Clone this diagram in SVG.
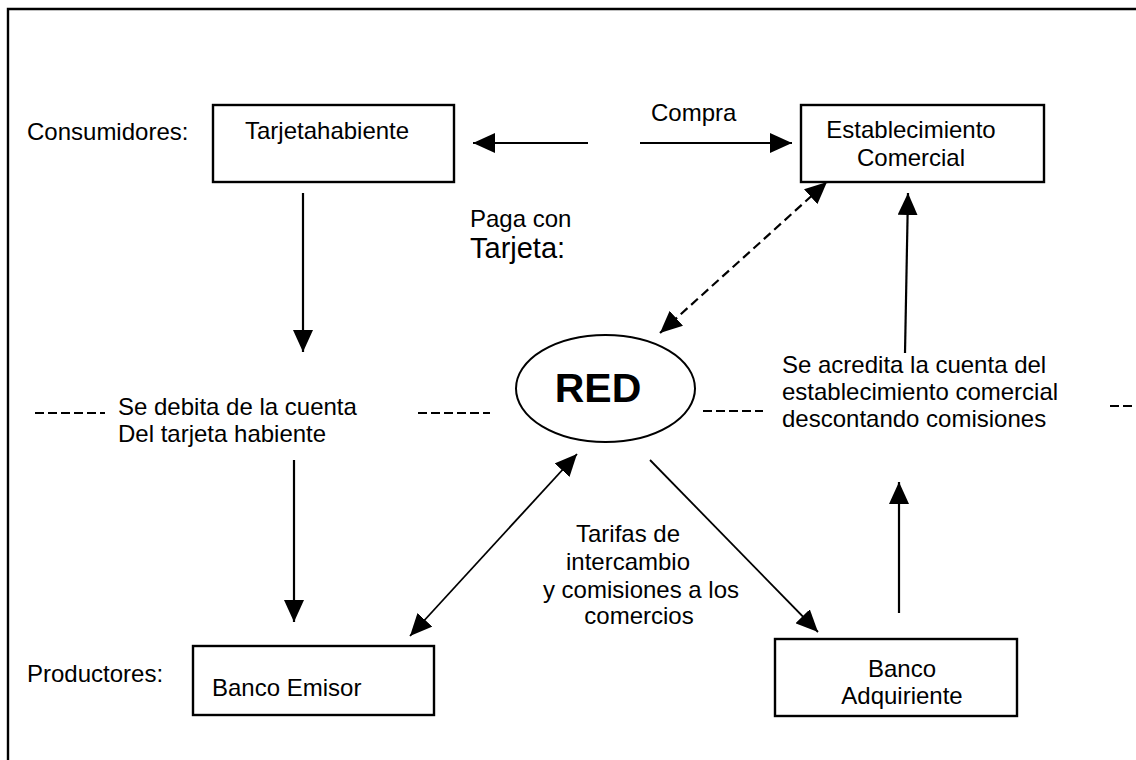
<svg xmlns="http://www.w3.org/2000/svg" width="1136" height="760" viewBox="0 0 1136 760">
<defs>
<marker id="ah" viewBox="0 0 22 20" refX="22" refY="10" markerWidth="22" markerHeight="20" markerUnits="userSpaceOnUse" orient="auto-start-reverse">
<path d="M0,0 L22,10 L0,20 z" fill="#000"/>
</marker>
<style>
text{font-family:"Liberation Sans",Arial,sans-serif;font-size:24px;fill:#000}
.box{fill:#fff;stroke:#000;stroke-width:2.4}
.ln{fill:none;stroke:#000;stroke-width:2.2}
.dl{fill:none;stroke:#000;stroke-width:2.2;stroke-dasharray:9 5}
.dash{fill:none;stroke:#000;stroke-width:2;stroke-dasharray:9 4}
.mid{text-anchor:middle}
</style>
</defs>
<rect width="1136" height="760" fill="#fff"/>
<g id="frame">
<path d="M8,760 L8,9 L1136,9" fill="none" stroke="#000" stroke-width="2.4"/>
</g>
<g id="labels">
<text x="27" y="140">Consumidores:</text>
<text x="27" y="682">Productores:</text>
<text x="651" y="121">Compra</text>
<text x="470" y="227">Paga con</text>
<text x="470" y="258" style="font-size:29px">Tarjeta:</text>
<text x="118" y="415">Se debita de la cuenta</text>
<text x="118" y="442">Del tarjeta habiente</text>
<text x="782" y="373">Se acredita la cuenta del</text>
<text x="782" y="400">establecimiento comercial</text>
<text x="782" y="427">descontando comisiones</text>
<text class="mid" x="628" y="542">Tarifas de</text>
<text class="mid" x="628" y="570">intercambio</text>
<text class="mid" x="641" y="598">y comisiones a los</text>
<text class="mid" x="639" y="624">comercios</text>
</g>
<g id="tarjetahabiente">
<rect class="box" x="213" y="105" width="241" height="77"/>
<text x="245" y="139">Tarjetahabiente</text>
</g>
<g id="establecimiento">
<rect class="box" x="801" y="105" width="243" height="77"/>
<text class="mid" x="911" y="138">Establecimiento</text>
<text class="mid" x="911" y="166">Comercial</text>
</g>
<g id="red">
<ellipse cx="605.5" cy="388.5" rx="89.5" ry="53.5" fill="#fff" stroke="#000" stroke-width="2"/>
<text class="mid" x="598" y="402" style="font-size:41px;font-weight:bold">RED</text>
</g>
<g id="banco-emisor">
<rect class="box" x="193" y="646" width="241" height="69"/>
<text x="212" y="696">Banco Emisor</text>
</g>
<g id="banco-adquiriente">
<rect class="box" x="775" y="639" width="242" height="77"/>
<text class="mid" x="902" y="677">Banco</text>
<text class="mid" x="902" y="704">Adquiriente</text>
</g>
<g id="connectors">
<line class="ln" x1="588" y1="143" x2="473" y2="143" marker-end="url(#ah)"/>
<line class="ln" x1="640" y1="143" x2="792" y2="143" marker-end="url(#ah)"/>
<line class="ln" x1="303" y1="193" x2="303" y2="352" marker-end="url(#ah)"/>
<line class="ln" x1="294" y1="460" x2="294" y2="622" marker-end="url(#ah)"/>
<line class="dl" x1="660" y1="333" x2="827" y2="182" marker-start="url(#ah)" marker-end="url(#ah)"/>
<line class="ln" style="stroke-width:1.8" x1="410" y1="636" x2="577" y2="454" marker-start="url(#ah)" marker-end="url(#ah)"/>
<line class="ln" style="stroke-width:1.8" x1="650" y1="460" x2="818" y2="632" marker-end="url(#ah)"/>
<line class="ln" x1="899" y1="613" x2="899" y2="482" marker-end="url(#ah)"/>
<line class="ln" x1="905" y1="353" x2="908" y2="193" marker-end="url(#ah)"/>
<line class="dash" x1="35" y1="413" x2="105" y2="413"/>
<line class="dash" x1="418" y1="413" x2="490" y2="413"/>
<line class="dash" x1="703" y1="411" x2="763" y2="411"/>
<line class="dash" x1="1110" y1="406" x2="1136" y2="406"/>
</g>
</svg>
